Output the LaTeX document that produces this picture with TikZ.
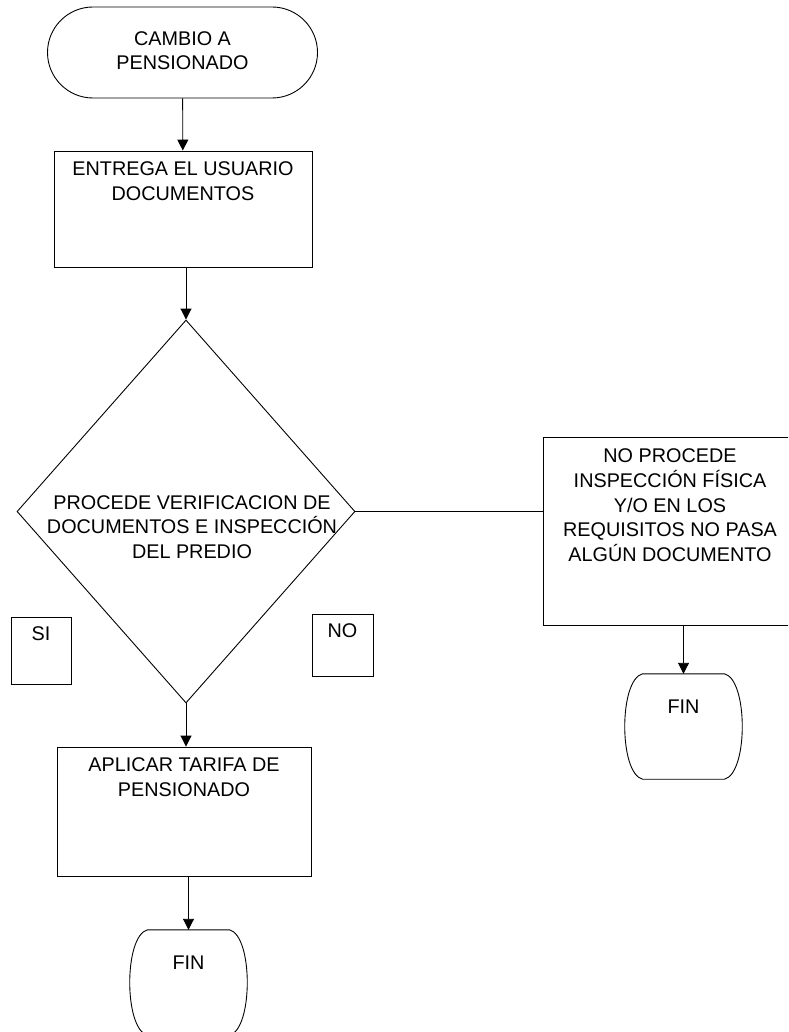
\documentclass[tikz,border=0pt]{standalone}
\usepackage{fontspec}
\setmainfont{Liberation Sans}
\usepackage{tikz}
\usetikzlibrary{positioning,arrows.meta,shapes.misc,shapes.geometric,calc}
\usepackage{xcolor}
\definecolor{flujoNegro}{HTML}{000000}

% contorno del terminal FIN (lados abombados)
\newcommand{\bordefin}[1]{%
  \draw[flujoNegro,line width=0.9pt] ($(#1.north)+(-41pt,0pt)$) -- ($(#1.north)+(41pt,0pt)$)
    .. controls ($(#1.north east)+(4pt,-6pt)$) and ($(#1.south east)+(4pt,6pt)$) .. ($(#1.south)+(41pt,0pt)$)
    -- ($(#1.south)+(-41pt,0pt)$)
    .. controls ($(#1.south west)+(-4pt,6pt)$) and ($(#1.north west)+(-4pt,-6pt)$) .. cycle;}

\begin{document}
\begin{tikzpicture}[x=1pt,y=-1pt,
          font=\fontsize{19.8pt}{24.8pt}\selectfont,
          term/.style={draw=flujoNegro,line width=0.9pt,rounded rectangle,
                       minimum width=270pt,minimum height=91pt,align=center,inner sep=0pt},
          proc/.style={draw=flujoNegro,line width=0.9pt,rectangle,inner sep=0pt},
          dec/.style={draw=flujoNegro,line width=0.9pt,diamond,inner sep=0pt},
          fin/.style={rectangle,inner sep=0pt,minimum width=121pt,minimum height=105pt},
          txt/.style={align=center,anchor=north,yshift=-8pt},
          arr/.style={-{Triangle[length=11pt,width=11pt]},line width=0.9pt,flujoNegro},
          lin/.style={line width=0.9pt,flujoNegro}]
        \useasboundingbox (0,0) rectangle (788,1032);
        \clip (0,0) rectangle (788,1032);
        \fill[white] (0,0) rectangle (788,1032);
        \node[term,text depth=4pt] (inicio) at (182.5,52.5) {CAMBIO A\\PENSIONADO};
        \node[proc,minimum width=258pt,minimum height=116pt,
              label={[txt]north:ENTREGA EL USUARIO\\DOCUMENTOS}] (entrega) at (183,209) {};
        \node[dec,minimum width=338pt,minimum height=383pt] (procede) at (186,511.5) {};
        \node[align=center] (procedetxt) at (192,527) {PROCEDE VERIFICACION DE\\DOCUMENTOS E INSPECCIÓN\\DEL PREDIO};
        \node[proc,minimum width=60pt,minimum height=67pt,label={[txt,yshift=1pt]north:SI}] (si) at (41,650.5) {};
        \node[proc,minimum width=61pt,minimum height=62pt,label={[txt,yshift=1pt]north:NO}] (no) at (342.5,645) {};
        \node[proc,minimum width=254pt,minimum height=188pt,
              label={[txt,yshift=-0.5pt]north:NO PROCEDE\\INSPECCIÓN FÍSICA\\Y/O EN LOS\\REQUISITOS NO PASA\\ALGÚN DOCUMENTO}] (noprocede) at (670,531) {};
        \node[fin,label={[txt,yshift=-15pt]north:FIN}] (fin2) at (683.5,726.5) {};
        \bordefin{fin2}
        \node[proc,minimum width=254pt,minimum height=129pt,
              label={[txt]north:APLICAR TARIFA DE\\PENSIONADO}] (aplicar) at (184,811.5) {};
        \node[fin,label={[txt,yshift=-15pt]north:FIN}] (fin1) at (188.5,982.5) {};
        \bordefin{fin1}
        \draw[arr] (inicio) -- (entrega);
        \draw[arr] (entrega.south -| procede.north) -- (procede.north);
        \draw[lin] (procede.east) -- (procede.east -| noprocede.west);
        \draw[arr] (procede.south) -- (procede.south |- aplicar.north);
        \draw[arr] (aplicar.south -| fin1.north) -- (fin1.north);
        \draw[arr] (noprocede.south -| fin2.north) -- (fin2.north);
      \end{tikzpicture}
\end{document}
